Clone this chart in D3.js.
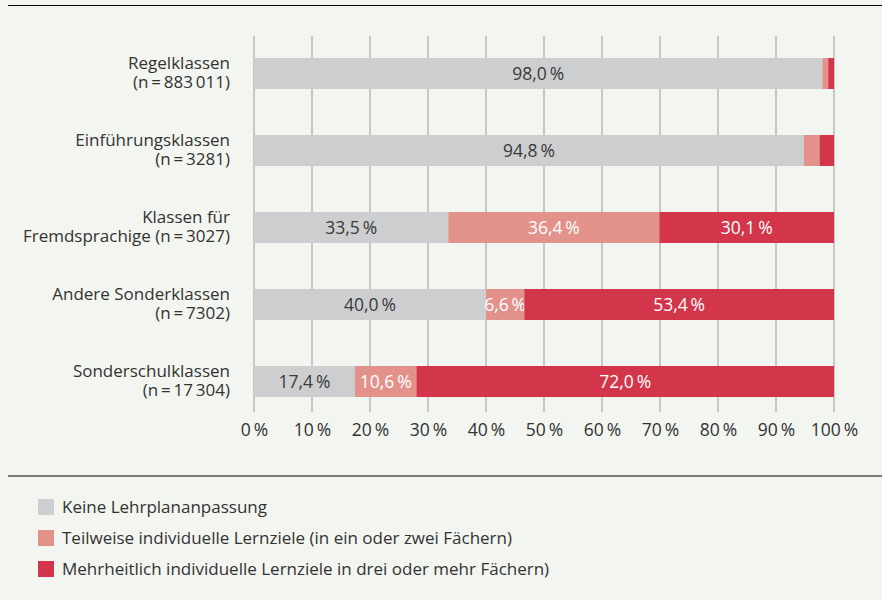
<!DOCTYPE html>
<html>
<head>
<meta charset="utf-8">
<script src="https://cdn.jsdelivr.net/npm/d3@7"></script>
<style>
  body { margin: 0; background: #f2f5f0; }
  svg { display: block; font-family: "Open Sans", "Noto Sans", sans-serif; }
</style>
</head>
<body>
<div id="chart"></div>
<script>
// categories (two lines each)
const categories = [
  ['Regelklassen', '(n\u2009=\u2009883\u2009011)'],
  ['Einführungsklassen', '(n\u2009=\u20093281)'],
  ['Klassen für', 'Fremdsprachige (n\u2009=\u20093027)'],
  ['Andere Sonderklassen', '(n\u2009=\u20097302)'],
  ['Sonderschulklassen', '(n\u2009=\u200917\u2009304)']
];
const keine = [98.0, 94.8, 33.5, 40.0, 17.4];
const teilweise = [1.0, 2.7, 36.4, 6.6, 10.6];
const mehrheitlich = [1.0, 2.5, 30.1, 53.4, 72.0];
const showLabel = [[true, false, false], [true, false, false], [true, true, true], [true, true, true], [true, true, true]];
const seriesNames = [
  'Keine Lehrplananpassung',
  'Teilweise individuelle Lernziele (in ein oder zwei Fächern)',
  'Mehrheitlich individuelle Lernziele in drei oder mehr Fächern)'
];
const colors = ['#cdced0', '#e3928b', '#d3354a'];
const labelColors = ['#3a3a3a', '#ffffff', '#ffffff'];
const xTicks = [0, 10, 20, 30, 40, 50, 60, 70, 80, 90, 100];

const fmt = v => v.toFixed(1).replace('.', ',') + '\u2009%';

const W = 882, H = 600;
const svg = d3.select('#chart').append('svg').attr('width', W).attr('height', H);
svg.append('rect').attr('width', W).attr('height', H).attr('fill', '#f2f5f0');

// frame lines
svg.append('line').attr('x1', 8).attr('x2', W).attr('y1', 5.5).attr('y2', 5.5)
  .attr('stroke', '#000').attr('stroke-width', 1.2);
svg.append('line').attr('x1', 8).attr('x2', W).attr('y1', 476).attr('y2', 476)
  .attr('stroke', '#000').attr('stroke-width', 1.2);

const xScale = d3.scaleLinear().domain([0, 100]).range([254, 834]);
const yScale = d3.scaleBand().domain(d3.range(categories.length)).range([35, 420]).paddingInner(0.6).paddingOuter(0.3);

// gridlines
svg.append('g').selectAll('line').data(xTicks).join('line')
  .attr('x1', d => xScale(d)).attr('x2', d => xScale(d))
  .attr('y1', 36).attr('y2', 412)
  .attr('stroke', '#b9b9b9').attr('stroke-width', 1.5);

// x axis labels
const xAxis = d3.axisBottom(xScale).tickValues(xTicks).tickSize(0).tickPadding(0)
  .tickFormat(d => d + '\u2009%');
const xAxisGroup = svg.append('g').attr('transform', 'translate(0,420)').call(xAxis);
xAxisGroup.select('.domain').remove();
xAxisGroup.selectAll('text').attr('font-size', 17.5).attr('fill', '#333')
  .attr('font-family', '"Open Sans", "Noto Sans", sans-serif').attr('dy', '0.9em');

// stacked data
const rows = categories.map((c, i) => ({ i, values: [keine[i], teilweise[i], mehrheitlich[i]] }));
const stack = d3.stack().keys([0, 1, 2]).value((d, k) => d.values[k]);
const stacked = stack(rows);

const bh = 31;
stacked.forEach((layer, k) => {
  const g = svg.append('g');
  g.selectAll('rect').data(layer).join('rect')
    .attr('x', d => xScale(d[0]))
    .attr('width', d => xScale(d[1]) - xScale(d[0]))
    .attr('y', d => yScale(d.data.i) + yScale.bandwidth() / 2 - bh / 2)
    .attr('height', bh)
    .attr('fill', colors[k]);
  g.selectAll('text').data(layer.filter(d => showLabel[d.data.i][k])).join('text')
    .attr('x', d => xScale((d[0] + d[1]) / 2))
    .attr('y', d => yScale(d.data.i) + yScale.bandwidth() / 2)
    .attr('dy', '0.35em')
    .attr('text-anchor', 'middle')
    .attr('font-size', 17.5)
    .attr('fill', labelColors[k])
    .text(d => fmt(d.data.values[k]));
});

// category labels
const catG = svg.append('g');
categories.forEach((c, i) => {
  const cy = yScale(i) + yScale.bandwidth() / 2;
  catG.append('text').attr('text-anchor', 'end').attr('font-size', 17).attr('fill', '#333')
    .attr('x', 230).attr('y', cy - 5).text(c[0]);
  catG.append('text').attr('text-anchor', 'end').attr('font-size', 17).attr('fill', '#333')
    .attr('x', 230).attr('y', cy + 14).text(c[1]);
});

// legend
const legend = svg.append('g').attr('transform', 'translate(38,499)');
seriesNames.forEach((name, k) => {
  const row = legend.append('g').attr('transform', `translate(0,${k * 31})`);
  row.append('rect').attr('width', 16).attr('height', 16).attr('fill', colors[k]);
  row.append('text').attr('x', 24).attr('y', 8).attr('dy', '0.35em')
    .attr('font-size', 17).attr('fill', '#333').text(name);
});
</script>
</body>
</html>
